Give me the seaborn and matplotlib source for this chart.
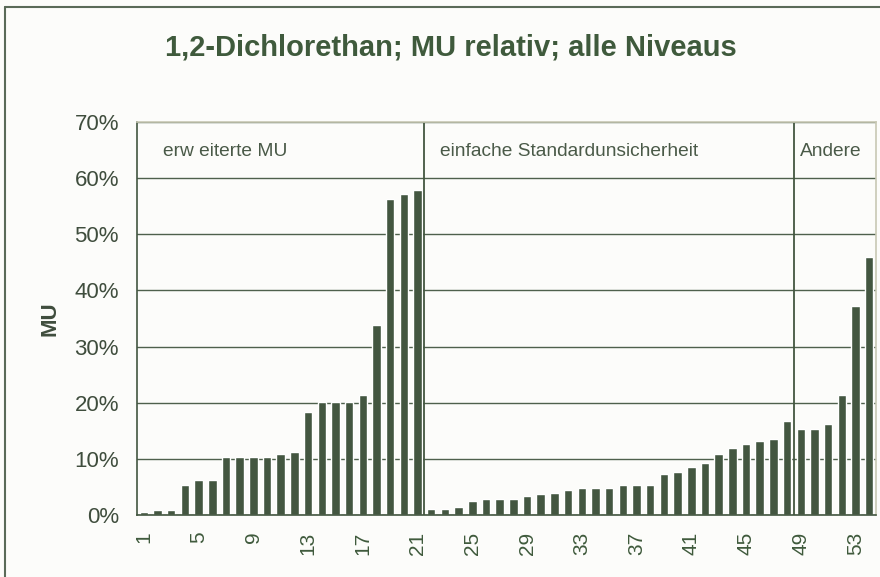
import numpy as np
import pandas as pd
import seaborn as sns
import matplotlib.pyplot as plt
from matplotlib.lines import Line2D
from matplotlib.ticker import FuncFormatter

# data (relative MU in %)
labs = [str(i) for i in range(1, 55)]
mu_pct = [0.5, 0.8, 0.8, 5.4, 6.3, 6.3, 10.3, 10.3, 10.3, 10.3,
          10.9, 11.2, 18.4, 20.1, 20.1, 20.1, 21.4, 33.8, 56.3, 57.2,
          57.9, 1.1, 1.1, 1.4, 2.4, 2.8, 2.8, 2.8, 3.3, 3.7,
          4.0, 4.4, 4.75, 4.75, 4.75, 5.4, 5.4, 5.4, 7.3, 7.7,
          8.6, 9.3, 10.9, 11.9, 12.6, 13.2, 13.5, 16.8, 15.4, 15.4,
          16.2, 21.4, 37.3, 45.9]
sections = ["erw eiterte MU", "einfache Standardunsicherheit", "Andere"]
section_start = [0, 21, 48]   # index of first bar in each section
y_ticks = [0, 10, 20, 30, 40, 50, 60, 70]

green = "#435640"
bg = "#fcfcfa"

df = pd.DataFrame({"nr": labs, "mu": mu_pct})

sns.set_style("white")
plt.rcParams['font.family'] = ['Liberation Sans', 'DejaVu Sans']

fig = plt.figure(figsize=(8.8, 5.77), dpi=100, facecolor=bg)
ax = fig.add_axes([0.1557, 0.1075, 0.8398, 0.6811])
ax.set_facecolor(bg)

sns.barplot(data=df, x="nr", y="mu", color=green, saturation=1, width=0.62, ax=ax)

ax.set_xlim(-0.5, len(labs) - 0.5)
ax.set_ylim(0, 70)
ax.set_yticks(y_ticks)
ax.yaxis.set_major_formatter(FuncFormatter(lambda v, p: f"{v:.0f}%"))
ax.yaxis.grid(True, color="#4e604c", lw=1)
ax.set_axisbelow(True)

# category labels every 4th bar, ticks at the bar boundaries
ax.set_xticks(range(0, len(labs), 4))
ax.set_xticklabels(labs[::4], rotation=90)
ax.set_xticks(np.arange(-0.5, len(labs), 1), minor=True)
ax.tick_params(axis="x", which="major", length=0, pad=12, labelsize=15, labelcolor="#3f5a3c")
ax.tick_params(axis="x", which="minor", length=6, width=1, color="#5a6a58", direction="out")
ax.tick_params(axis="y", length=5, width=1, color=green, direction="out", labelsize=16,
               labelcolor="#3f4d3d", pad=8)

for s in ["left", "bottom"]:
    ax.spines[s].set_color(green)
    ax.spines[s].set_linewidth(1.2)
for s in ["top", "right"]:
    ax.spines[s].set_color("#c8c8b4")
    ax.spines[s].set_linewidth(1.2)

# section dividers and labels
for start in section_start[1:]:
    ax.axvline(start - 0.5, color=green, lw=1.3)
label_x = [1.4, 21.63, 47.96]
for name, lx in zip(sections, label_x):
    ax.text(lx, 64.8, name, ha="left", va="center", fontsize=13.8, color="#4a5a48")

ax.set_xlabel("")
ax.set_ylabel("MU", fontsize=16, fontweight="bold", color="#3f4d3d", labelpad=10)

fig.text(0.5125, 0.918, "1,2-Dichlorethan; MU relativ; alle Niveaus", ha="center", va="center",
         fontsize=21, fontweight="bold", color="#3f5a3c")

# outer chart border
fig.add_artist(Line2D([5 / 880, 5 / 880], [0, 1 - 7 / 577], transform=fig.transFigure, color="#5a6a58", lw=1.5))
fig.add_artist(Line2D([5 / 880, 1], [1 - 7 / 577, 1 - 7 / 577], transform=fig.transFigure, color="#5a6a58", lw=1.5))

fig.savefig("out.png", dpi=100, facecolor=bg)
